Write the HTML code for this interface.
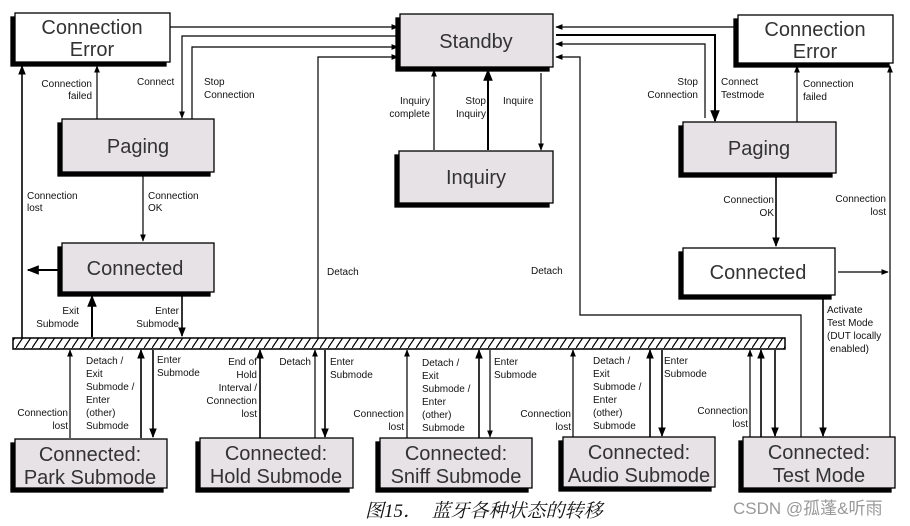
<!DOCTYPE html>
<html><head><meta charset="utf-8"><style>
html,body{margin:0;padding:0;background:#fff;}
svg{display:block;}
.t{font-family:"Liberation Sans",sans-serif;fill:#333;}
.b{font-size:20px;fill:#333;}
.s{font-size:10px;fill:#111;}
</style></head><body>
<svg width="910" height="526" viewBox="0 0 910 526" xmlns="http://www.w3.org/2000/svg">
<defs>
<marker id="a" viewBox="0 0 10 10" refX="9" refY="5" markerWidth="6" markerHeight="6" orient="auto"><path d="M0,1 L10,5 L0,9 z" fill="#000"/></marker>
<pattern id="h" width="8" height="12" patternUnits="userSpaceOnUse"><path d="M0,12 L8,0" stroke="#000" stroke-width="1.2"/></pattern>
</defs>
<g class="t">
<g stroke="#000" stroke-width="1.3">
<rect x="11" y="17" width="155" height="49" fill="#000"/><rect x="15" y="13" width="155" height="49" fill="#fff"/>
<rect x="396" y="18" width="153" height="53" fill="#000"/><rect x="400" y="14" width="153" height="53" fill="#e6e2e6"/>
<rect x="734" y="19" width="155" height="48" fill="#000"/><rect x="738" y="15" width="155" height="48" fill="#fff"/>
<rect x="58" y="123" width="152" height="53" fill="#000"/><rect x="62" y="119" width="152" height="53" fill="#e6e2e6"/>
<rect x="395" y="155" width="154" height="52" fill="#000"/><rect x="399" y="151" width="154" height="52" fill="#e6e2e6"/>
<rect x="679" y="126" width="153" height="51" fill="#000"/><rect x="683" y="122" width="153" height="51" fill="#e6e2e6"/>
<rect x="58" y="247" width="152" height="49" fill="#000"/><rect x="62" y="243" width="152" height="49" fill="#e6e2e6"/>
<rect x="679" y="252" width="152" height="47" fill="#000"/><rect x="683" y="248" width="152" height="47" fill="#fff"/>
<rect x="11" y="443" width="152" height="49" fill="#000"/><rect x="15" y="439" width="152" height="49" fill="#e6e2e6"/>
<rect x="196" y="442" width="153" height="50" fill="#000"/><rect x="200" y="438" width="153" height="50" fill="#e6e2e6"/>
<rect x="376" y="442" width="152" height="50" fill="#000"/><rect x="380" y="438" width="152" height="50" fill="#e6e2e6"/>
<rect x="559" y="441" width="152" height="50" fill="#000"/><rect x="563" y="437" width="152" height="50" fill="#e6e2e6"/>
<rect x="739" y="441" width="152" height="51" fill="#000"/><rect x="743" y="437" width="152" height="51" fill="#e6e2e6"/>
<rect x="13" y="338" width="772" height="11" fill="#fff"/>
<rect x="13" y="338" width="772" height="11" fill="url(#h)"/>
</g>
<text class="b" x="92" y="34" text-anchor="middle">Connection</text><text class="b" x="92" y="56" text-anchor="middle">Error</text>
<text class="b" x="476" y="48" text-anchor="middle">Standby</text>
<text class="b" x="815" y="36" text-anchor="middle">Connection</text><text class="b" x="815" y="58" text-anchor="middle">Error</text>
<text class="b" x="138" y="153" text-anchor="middle">Paging</text>
<text class="b" x="476" y="184" text-anchor="middle">Inquiry</text>
<text class="b" x="759" y="155" text-anchor="middle">Paging</text>
<text class="b" x="135" y="275" text-anchor="middle">Connected</text>
<text class="b" x="758" y="279" text-anchor="middle">Connected</text>
<text class="b" x="90" y="461" text-anchor="middle">Connected:</text><text class="b" x="90" y="484" text-anchor="middle">Park Submode</text>
<text class="b" x="276" y="460" text-anchor="middle">Connected:</text><text class="b" x="276" y="483" text-anchor="middle">Hold Submode</text>
<text class="b" x="456" y="460" text-anchor="middle">Connected:</text><text class="b" x="456" y="483" text-anchor="middle">Sniff Submode</text>
<text class="b" x="639" y="459" text-anchor="middle">Connected:</text><text class="b" x="639" y="482" text-anchor="middle">Audio Submode</text>
<text class="b" x="819" y="459" text-anchor="middle">Connected:</text><text class="b" x="819" y="482" text-anchor="middle">Test Mode</text>

<g stroke="#000" stroke-width="1.2" fill="none" marker-end="url(#a)">
<path d="M170,27 H398"/>
<path d="M398,36 H182 V118"/>
<path d="M192,119 V47 H398"/>
<path d="M318,338 V57 H398"/>
<path d="M434,150 V70"/>
<path d="M488,150 V70" stroke-width="2"/>
<path d="M541,73 V150"/>
<path d="M738,27 H556"/>
<path d="M556,35 H715 V121" stroke-width="2"/>
<path d="M705,118 V44 H556"/>
<path d="M801,437 V315 H580 V57 H556"/>
<path d="M797,122 V66"/>
<path d="M890,437 V66"/>
<path d="M838,272 H888"/>
<path d="M823,297 V436" stroke-width="1.6"/>
<path d="M776,176 V246" stroke-width="1.6"/>
<path d="M97,119 V66"/>
<path d="M22,338 V66" stroke-width="1.6"/>
<path d="M58,270 H28" stroke-width="2"/>
<path d="M143,176 V241"/>
<path d="M92,337 V296" stroke-width="2"/>
<path d="M182,296 V336" stroke-width="1.6"/>
<path d="M70,438 V350"/>
<path d="M141,438 V350" stroke-width="1.6"/>
<path d="M153,350 V437" stroke-width="1.6"/>
<path d="M260,438 V350" stroke-width="1.6"/>
<path d="M315,438 V350"/>
<path d="M325,350 V437" stroke-width="1.6"/>
<path d="M407,438 V350"/>
<path d="M479,438 V350" stroke-width="1.6"/>
<path d="M490,350 V437"/>
<path d="M573,437 V350"/>
<path d="M650,437 V350" stroke-width="1.6"/>
<path d="M662,350 V436" stroke-width="1.6"/>
<path d="M750,437 V350"/>
<path d="M761,437 V350" stroke-width="1.6"/>
<path d="M775,350 V436" stroke-width="1.6"/>
</g>

<g class="s">
<text x="92" y="87" text-anchor="end">Connection</text><text x="92" y="99" text-anchor="end">failed</text>
<text x="137" y="85">Connect</text>
<text x="204" y="85">Stop</text><text x="204" y="98">Connection</text>
<text x="27" y="199">Connection</text><text x="27" y="211">lost</text>
<text x="148" y="199">Connection</text><text x="148" y="211">OK</text>
<text x="79" y="314" text-anchor="end">Exit</text><text x="79" y="327" text-anchor="end">Submode</text>
<text x="179" y="314" text-anchor="end">Enter</text><text x="179" y="327" text-anchor="end">Submode</text>
<text x="327" y="275">Detach</text>
<text x="430" y="104" text-anchor="end">Inquiry</text><text x="430" y="117" text-anchor="end">complete</text>
<text x="486" y="104" text-anchor="end">Stop</text><text x="486" y="117" text-anchor="end">Inquiry</text>
<text x="503" y="104">Inquire</text>
<text x="531" y="274">Detach</text>
<text x="698" y="85" text-anchor="end">Stop</text><text x="698" y="98" text-anchor="end">Connection</text>
<text x="721" y="85">Connect</text><text x="721" y="98">Testmode</text>
<text x="803" y="87">Connection</text><text x="803" y="100">failed</text>
<text x="774" y="203" text-anchor="end">Connection</text><text x="774" y="216" text-anchor="end">OK</text>
<text x="886" y="202" text-anchor="end">Connection</text><text x="886" y="215" text-anchor="end">lost</text>
<text x="827" y="313">Activate</text><text x="827" y="326">Test Mode</text><text x="827" y="339">(DUT locally</text><text x="830" y="352">enabled)</text>
<text x="68" y="416" text-anchor="end">Connection</text><text x="68" y="429" text-anchor="end">lost</text>
<text x="86" y="364">Detach /</text><text x="86" y="377">Exit</text><text x="86" y="390">Submode /</text><text x="86" y="403">Enter</text><text x="86" y="416">(other)</text><text x="86" y="429">Submode</text>
<text x="157" y="363">Enter</text><text x="157" y="376">Submode</text>
<text x="257" y="365" text-anchor="end">End of</text><text x="257" y="378" text-anchor="end">Hold</text><text x="257" y="391" text-anchor="end">Interval /</text><text x="257" y="404" text-anchor="end">Connection</text><text x="257" y="417" text-anchor="end">lost</text>
<text x="311" y="365" text-anchor="end">Detach</text>
<text x="330" y="365">Enter</text><text x="330" y="378">Submode</text>
<text x="404" y="417" text-anchor="end">Connection</text><text x="404" y="430" text-anchor="end">lost</text>
<text x="422" y="366">Detach /</text><text x="422" y="379">Exit</text><text x="422" y="392">Submode /</text><text x="422" y="405">Enter</text><text x="422" y="418">(other)</text><text x="422" y="431">Submode</text>
<text x="494" y="365">Enter</text><text x="494" y="378">Submode</text>
<text x="571" y="417" text-anchor="end">Connection</text><text x="571" y="430" text-anchor="end">lost</text>
<text x="593" y="364">Detach /</text><text x="593" y="377">Exit</text><text x="593" y="390">Submode /</text><text x="593" y="403">Enter</text><text x="593" y="416">(other)</text><text x="593" y="429">Submode</text>
<text x="664" y="364">Enter</text><text x="664" y="377">Submode</text>
<text x="748" y="414" text-anchor="end">Connection</text><text x="748" y="427" text-anchor="end">lost</text>
</g>
<text x="365" y="517" style="font-family:'Liberation Serif','Noto Serif CJK SC',serif;font-style:italic;font-size:19px;fill:#111;">图15．　蓝牙各种状态的转移</text>
<text x="733" y="514" style="font-family:'Liberation Sans','Noto Sans CJK SC',sans-serif;font-size:17px;fill:#999;">CSDN @孤蓬&amp;听雨</text>
</g>
</svg>
</body></html>
